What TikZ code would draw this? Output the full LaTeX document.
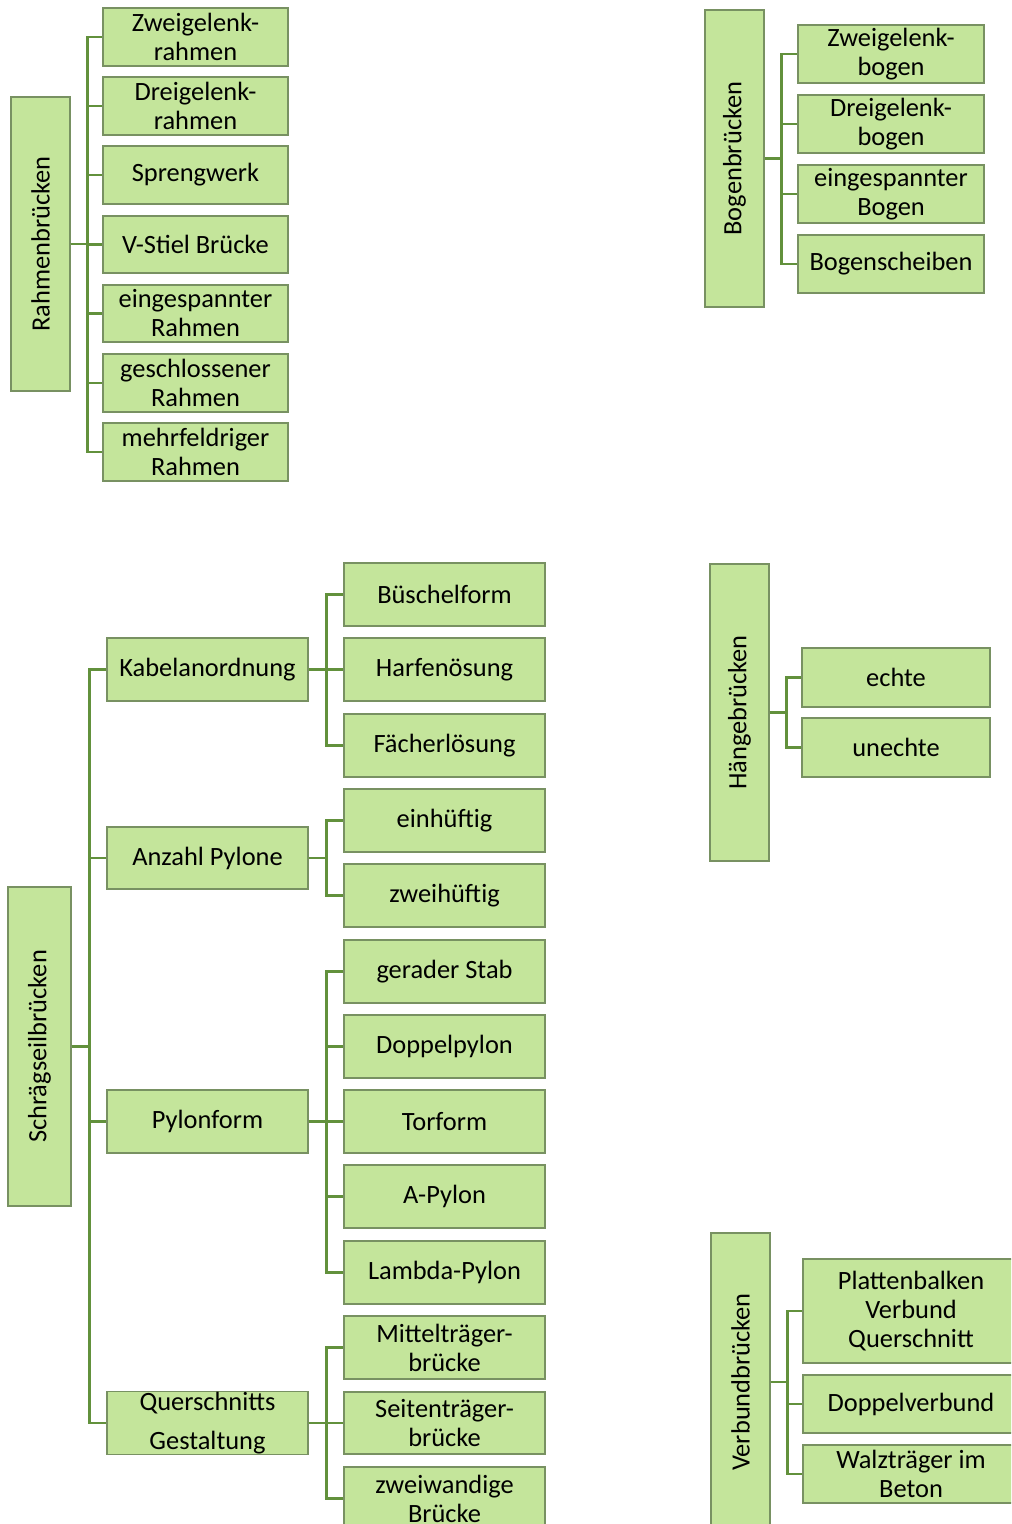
\documentclass[tikz,border=0pt]{standalone}
\usepackage{fontspec}
\usepackage{graphicx}
\setmainfont{Carlito}
\definecolor{boxfill}{RGB}{196,229,155}
\definecolor{boxline}{RGB}{120,145,98}
\definecolor{connc}{RGB}{98,145,60}
\tikzset{
  box/.style={draw=boxline, line width=0.9pt, fill=boxfill, inner sep=0pt, align=center,
              font=\fontsize{19.8}{21.75}\selectfont},
  conn/.style={draw=connc, line width=2.2pt}
}
\newcommand\bx[6]{\node[box, minimum width={(#4-#2)*0.75pt}, minimum height={(#5-#3)*0.75pt}] (#1) at ({(#2+#4)/2},{(#3+#5)/2}) {#6};}
\newcommand\rb[6]{\node[box, minimum width={(#4-#2)*0.75pt}, minimum height={(#5-#3)*0.75pt}] (#1) at ({(#2+#4)/2},{(#3+#5)/2}) {\rotatebox{90}{#6}};}
\begin{document}
\begin{tikzpicture}[x=0.75pt,y=-0.75pt]
\useasboundingbox (0,0) rectangle (1011,1524);
\clip (0,0) rectangle (1011,1524);
\fill[white] (0,0) rectangle (1011,1524);
% Rahmenbruecken
\rb{R}{11}{97}{70}{391}{Rahmenbrücken}
\bx{R1}{103}{8}{288}{66}{Zweigelenk-\\rahmen}
\bx{R2}{103}{77}{288}{135}{Dreigelenk-\\rahmen}
\bx{R3}{103}{146}{288}{204}{Sprengwerk}
\bx{R4}{103}{216}{288}{273}{V-Stiel Brücke}
\bx{R5}{103}{285}{288}{342}{eingespannter\\Rahmen}
\bx{R6}{103}{354}{288}{412}{geschlossener\\Rahmen}
\bx{R7}{103}{423}{288}{481}{mehrfeldriger\\Rahmen}
% Bogenbruecken
\rb{B}{705}{10}{764}{307}{Bogenbrücken}
\bx{B1}{798}{25}{984}{83}{Zweigelenk-\\bogen}
\bx{B2}{798}{95}{984}{153}{Dreigelenk-\\bogen}
\bx{B3}{798}{165}{984}{223}{eingespannter\\Bogen}
\bx{B4}{798}{235}{984}{293}{Bogenscheiben}
% Haengebruecken
\rb{H}{710}{564}{769}{861}{Hängebrücken}
\bx{H1}{802}{648}{990}{707}{echte}
\bx{H2}{802}{718}{990}{777}{unechte}
% Verbundbruecken
\rb{V}{711}{1233}{770}{1531}{Verbundbrücken}
\bx{V1}{803}{1259}{1019}{1363}{Plattenbalken\\Verbund\\Querschnitt}
\bx{V2}{803}{1375}{1019}{1433}{Doppelverbund}
\bx{V3}{803}{1445}{1019}{1503}{Walzträger im\\Beton}
% Schraegseilbruecken
\rb{S}{8}{887}{71}{1206}{Schrägseilbrücken}
\bx{S1}{107}{638}{308}{701}{Kabelanordnung}
\bx{S2}{107}{827}{308}{889}{Anzahl Pylone}
\bx{S3}{107}{1090}{308}{1153}{Pylonform}
\bx{S4}{107}{1392}{308}{1454}{Querschnitts\\[8pt]Gestaltung}
\bx{T1}{344}{563}{545}{626}{Büschelform}
\bx{T2}{344}{638}{545}{701}{Harfenösung}
\bx{T3}{344}{714}{545}{777}{Fächerlösung}
\bx{T4}{344}{789}{545}{852}{einhüftig}
\bx{T5}{344}{864}{545}{927}{zweihüftig}
\bx{T6}{344}{940}{545}{1003}{gerader Stab}
\bx{T7}{344}{1015}{545}{1078}{Doppelpylon}
\bx{T8}{344}{1090}{545}{1153}{Torform}
\bx{T9}{344}{1165}{545}{1228}{A-Pylon}
\bx{T10}{344}{1241}{545}{1304}{Lambda-Pylon}
\bx{T11}{344}{1316}{545}{1379}{Mittelträger-\\brücke}
\bx{T12}{344}{1392}{545}{1454}{Seitenträger-\\brücke}
\bx{T13}{344}{1467}{545}{1530}{zweiwandige\\Brücke}
% connectors
\foreach \c in {R1,R2,R3,R4,R5,R6,R7} \draw[conn] (R.east) -- +(17,0) |- (\c.west);
\foreach \c in {B1,B2,B3,B4} \draw[conn] (B.east) -- +(17,0) |- (\c.west);
\foreach \c in {H1,H2} \draw[conn] (H.east) -- +(17,0) |- (\c.west);
\foreach \c in {V1,V2,V3} \draw[conn] (V.east) -- +(17,0) |- (\c.west);
\foreach \c in {S1,S2,S3,S4} \draw[conn] (S.east) -- +(18,0) |- (\c.west);
\foreach \c in {T1,T2,T3} \draw[conn] (S1.east) -- +(18,0) |- (\c.west);
\foreach \c in {T4,T5} \draw[conn] (S2.east) -- +(18,0) |- (\c.west);
\foreach \c in {T6,T7,T8,T9,T10} \draw[conn] (S3.east) -- +(18,0) |- (\c.west);
\foreach \c in {T11,T12,T13} \draw[conn] (S4.east) -- +(18,0) |- (\c.west);
\end{tikzpicture}
\end{document}
